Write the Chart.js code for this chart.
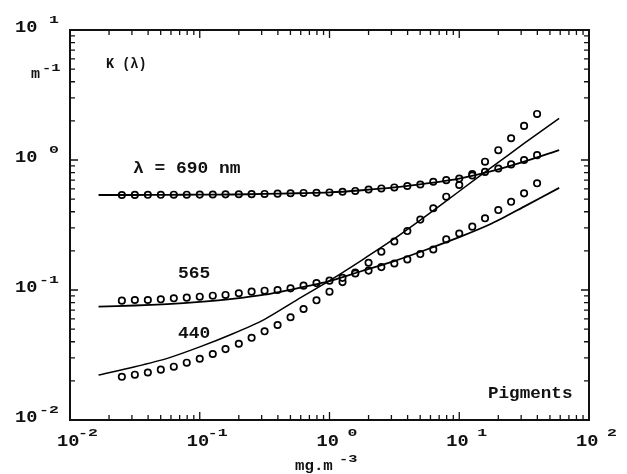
<!DOCTYPE html>
<html lang="en">
<head>
  <meta charset="UTF-8">
  <title>K(lambda) vs pigments</title>
  <script src="https://cdn.jsdelivr.net/npm/chart.js"></script>
  <style>
    body { margin: 0; background: #fff; overflow: hidden; }
    #wrap { width: 627px; height: 474px; }
  </style>
</head>
<body>
  <div id="wrap"><canvas id="kChart" width="627" height="474"></canvas></div>

  <script>
    // pigment concentration (mg m-3) where the open circles sit
    const circleX = [0.0251, 0.0316, 0.0398, 0.0501, 0.0631, 0.0794, 0.1, 0.126, 0.158, 0.2,
      0.251, 0.316, 0.398, 0.501, 0.631, 0.794, 1, 1.26, 1.58, 2, 2.51, 3.16, 3.98, 5.01,
      6.31, 7.94, 10, 12.6, 15.8, 20, 25.1, 31.6, 39.8];
    const circles690 = [0.538, 0.539, 0.540, 0.540, 0.541, 0.541, 0.542, 0.543, 0.544, 0.545,
      0.546, 0.548, 0.551, 0.555, 0.558, 0.560, 0.563, 0.570, 0.578, 0.593, 0.604, 0.615,
      0.631, 0.648, 0.68, 0.70, 0.72, 0.76, 0.81, 0.86, 0.925, 1.0, 1.09];
    const circles565 = [0.0828, 0.0838, 0.0838, 0.0848, 0.0863, 0.0873, 0.0888, 0.0904, 0.0916,
      0.0944, 0.0971, 0.0988, 0.1, 0.103, 0.108, 0.113, 0.118, 0.124, 0.134, 0.141, 0.150,
      0.160, 0.172, 0.189, 0.205, 0.245, 0.272, 0.307, 0.356, 0.412, 0.477, 0.554, 0.662];
    const circles440 = [0.0215, 0.0223, 0.0232, 0.0244, 0.0257, 0.0276, 0.0296, 0.0322, 0.0351,
      0.0386, 0.0429, 0.0481, 0.0538, 0.0617, 0.0714, 0.0833, 0.097, 0.115, 0.136, 0.162,
      0.197, 0.236, 0.284, 0.348, 0.425, 0.522, 0.642, 0.78, 0.97, 1.19, 1.47, 1.83, 2.26];

    // model curves (solid lines)
    const curveX = [0.0166, 0.0316, 0.0562, 0.1, 0.178, 0.316, 0.562, 1, 1.78, 3.16, 5.62, 10,
      17.8, 31.6, 58.9];
    const curve690 = [0.538, 0.538, 0.540, 0.541, 0.543, 0.548, 0.555, 0.563, 0.585, 0.615,
      0.66, 0.72, 0.82, 0.97, 1.19];
    const curve565 = [0.0744, 0.076, 0.078, 0.081, 0.0853, 0.092, 0.103, 0.117, 0.14, 0.167,
      0.205, 0.255, 0.325, 0.438, 0.61];
    const curve440 = [0.0222, 0.0257, 0.0298, 0.0365, 0.0459, 0.0595, 0.084, 0.118, 0.17,
      0.248, 0.375, 0.575, 0.88, 1.34, 2.09];

    // axis decades
    const xTickVals = [0.01, 0.1, 1, 10, 100];
    const xTickExps = ['-2', '-1', ' 0', ' 1', ' 2'];
    const yTickVals = [10, 1, 0.1, 0.01];
    const yTickExps = [' 1', ' 0', '-1', '-2'];

    const FONT = '"Liberation Mono", "DejaVu Sans Mono", monospace';

    function pts(xs, ys) {
      return xs.map((x, i) => ({ x: x, y: ys[i] }));
    }

    // draw text stretched horizontally, like the plotter font
    function txt(ctx, s, x, y, size, sx) {
      ctx.save();
      ctx.font = 'bold ' + size + 'px ' + FONT;
      ctx.textAlign = 'left';
      ctx.textBaseline = 'alphabetic';
      ctx.translate(x, y);
      ctx.scale(sx, 1);
      ctx.fillText(s, 0, 0);
      ctx.restore();
    }

    const frame = {
      id: 'frame',
      afterDraw(chart) {
        const ctx = chart.ctx;
        const a = chart.chartArea;
        const xs = chart.scales.x, ys = chart.scales.y;
        ctx.save();
        ctx.strokeStyle = '#111';
        ctx.fillStyle = '#111';

        // log ticks on all four sides, pointing inwards
        ctx.lineWidth = 1.3;
        for (let d = -2; d <= 1; d++) {
          for (let m = 1; m <= 9; m++) {
            const v = m * Math.pow(10, d);
            const len = m === 1 ? 8 : 5;
            const px = xs.getPixelForValue(v);
            ctx.beginPath();
            ctx.moveTo(px, a.bottom); ctx.lineTo(px, a.bottom - len);
            ctx.moveTo(px, a.top); ctx.lineTo(px, a.top + len);
            ctx.stroke();
            const py = ys.getPixelForValue(v);
            ctx.beginPath();
            ctx.moveTo(a.left, py); ctx.lineTo(a.left + len, py);
            ctx.moveTo(a.right, py); ctx.lineTo(a.right - len, py);
            ctx.stroke();
          }
        }

        // border
        ctx.lineWidth = 2;
        ctx.strokeRect(a.left, a.top, a.right - a.left, a.bottom - a.top);

        // x tick labels
        xTickVals.forEach((v, i) => {
          const px = xs.getPixelForValue(v);
          txt(ctx, '10', px - 13, 446, 17, 1.1);
          txt(ctx, xTickExps[i], px + 8, 436, 11, 1.5);
        });
        // y tick labels
        yTickVals.forEach((v, i) => {
          const py = ys.getPixelForValue(v);
          txt(ctx, '10', 15, py + 2, 17, 1.1);
          txt(ctx, yTickExps[i], 39, py - 7, 11, 1.5);
        });

        // axis titles
        txt(ctx, 'mg.m', 295, 470, 15, 1.05);
        txt(ctx, '-3', 339, 462, 11, 1.4);
        txt(ctx, 'm', 31, 78, 15, 1.0);
        txt(ctx, '-1', 42, 71, 11, 1.4);

        // annotations
        txt(ctx, 'K (\u03bb)', 106, 68, 15, 0.9);
        txt(ctx, '\u03bb = 690 nm', 133, 173, 16, 1.12);
        txt(ctx, '565', 178, 278, 16, 1.12);
        txt(ctx, '440', 178, 338, 16, 1.12);
        txt(ctx, 'Pigments', 488, 398, 16, 1.1);
        ctx.restore();
      }
    };

    const lineStyle = {
      showLine: true, pointRadius: 0, borderColor: '#000', borderWidth: 1.8,
      tension: 0.25, fill: false
    };
    const dotStyle = {
      showLine: false, pointStyle: 'circle', pointRadius: 3.2, borderWidth: 1.7,
      pointBorderColor: '#000', pointBackgroundColor: '#fff'
    };

    const ctx = document.getElementById('kChart').getContext('2d');
    new Chart(ctx, {
      type: 'scatter',
      data: {
        datasets: [
          Object.assign({ label: '690 model', data: pts(curveX, curve690) }, lineStyle),
          Object.assign({ label: '565 model', data: pts(curveX, curve565) }, lineStyle),
          Object.assign({ label: '440 model', data: pts(curveX, curve440) }, lineStyle, { borderWidth: 1.5 }),
          Object.assign({ label: '690', data: pts(circleX, circles690) }, dotStyle),
          Object.assign({ label: '565', data: pts(circleX, circles565) }, dotStyle),
          Object.assign({ label: '440', data: pts(circleX, circles440) }, dotStyle)
        ]
      },
      options: {
        responsive: false,
        animation: false,
        devicePixelRatio: 1,
        layout: { padding: { left: 70, right: 38, top: 30, bottom: 54 } },
        plugins: { legend: { display: false }, tooltip: { enabled: false } },
        scales: {
          x: { type: 'logarithmic', min: 0.01, max: 100, display: false },
          y: { type: 'logarithmic', min: 0.01, max: 10, display: false }
        }
      },
      plugins: [frame]
    });
  </script>
</body>
</html>
